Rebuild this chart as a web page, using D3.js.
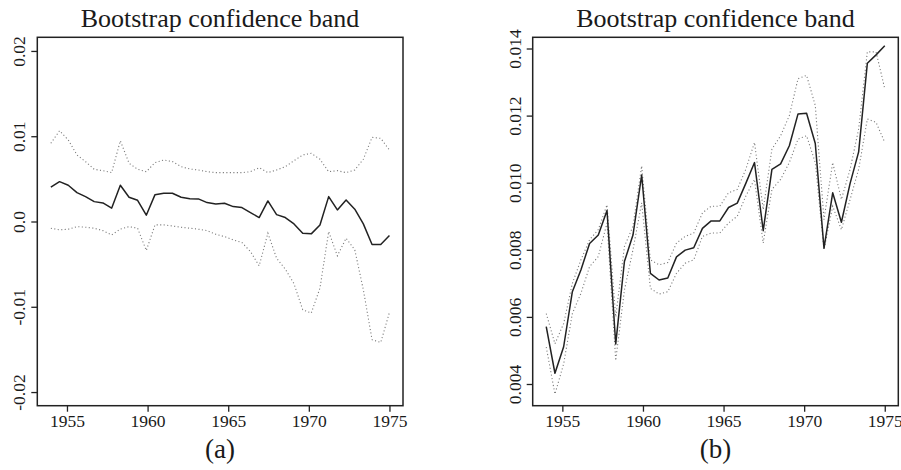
<!DOCTYPE html>
<html>
<head>
<meta charset="utf-8">
<script src="https://cdn.jsdelivr.net/npm/d3@7"></script>
<style>
html, body { margin: 0; padding: 0; background: #fff; }
svg { display: block; }
text { font-family: "Liberation Serif", "DejaVu Serif", serif; fill: #1a1a1a; }
</style>
</head>
<body>
<svg id="chart" width="901" height="470"></svg>
<script>
// ---- data ----
const years = [1954.00, 1954.54, 1955.08, 1955.62, 1956.15, 1956.69, 1957.23, 1957.77, 1958.31, 1958.85,
  1959.38, 1959.92, 1960.46, 1961.00, 1961.54, 1962.08, 1962.62, 1963.15, 1963.69, 1964.23,
  1964.77, 1965.31, 1965.85, 1966.38, 1966.92, 1967.46, 1968.00, 1968.54, 1969.08, 1969.62,
  1970.15, 1970.69, 1971.23, 1971.77, 1972.31, 1972.85, 1973.38, 1973.92, 1974.46, 1975.00];

const leftFit = [0.00402, 0.00467, 0.00425, 0.00338, 0.00292, 0.00233, 0.00218, 0.00156, 0.00425, 0.00285,
  0.00249, 0.00074, 0.00315, 0.00331, 0.00331, 0.00285, 0.00268, 0.00265, 0.00222, 0.00206,
  0.00214, 0.00175, 0.00163, 0.00105, 0.00046, 0.00241, 0.00081, 0.00046, -0.00028, -0.00137,
  -0.00145, -0.0004, 0.00292, 0.00136, 0.00253, 0.00144, -0.00028, -0.0027, -0.0027, -0.00165];
const leftUpper = [0.00917, 0.01064, 0.00956, 0.0078, 0.00702, 0.00612, 0.00596, 0.00573, 0.00947, 0.00683,
  0.00612, 0.00584, 0.0069, 0.00721, 0.00702, 0.00643, 0.00616, 0.00604, 0.00584, 0.00573,
  0.00573, 0.00573, 0.00573, 0.00584, 0.00631, 0.00573, 0.00604, 0.00643, 0.00713, 0.0078,
  0.008, 0.0073, 0.00584, 0.00596, 0.00573, 0.00604, 0.0073, 0.00987, 0.00975, 0.00838];
const leftLower = [-0.00079, -0.00098, -0.0009, -0.0006, -0.00067, -0.00079, -0.00107, -0.00157, -0.0009, -0.0006,
  -0.00079, -0.0034, -0.0004, -0.0004, -0.00052, -0.00067, -0.00079, -0.0009, -0.00107, -0.0015,
  -0.00177, -0.00215, -0.00247, -0.00352, -0.0052, -0.00137, -0.0043, -0.00559, -0.0073, -0.01035,
  -0.01074, -0.00781, -0.00118, -0.00403, -0.00196, -0.00333, -0.008, -0.01386, -0.01418, -0.01066];

const rightFit = [0.00571, 0.00432, 0.00511, 0.00675, 0.0074, 0.00819, 0.00844, 0.00917, 0.00519, 0.00765,
  0.00844, 0.01023, 0.0073, 0.0071, 0.00716, 0.00779, 0.00799, 0.00806, 0.00864, 0.00886,
  0.00886, 0.00926, 0.00939, 0.00998, 0.0106, 0.00857, 0.0104, 0.01056, 0.0111, 0.01205,
  0.01207, 0.01117, 0.00805, 0.0097, 0.00882, 0.00998, 0.01092, 0.01356, 0.01381, 0.01408];
const rightUpper = [0.0061, 0.0052, 0.0058, 0.0070, 0.0077, 0.0083, 0.0086, 0.00934, 0.0060, 0.0081,
  0.0087, 0.0105, 0.0077, 0.00755, 0.00762, 0.0082, 0.0084, 0.0085, 0.0091, 0.0093,
  0.0093, 0.0097, 0.0098, 0.0104, 0.0112, 0.0092, 0.0110, 0.0114, 0.0120, 0.0131,
  0.0132, 0.0123, 0.0089, 0.0106, 0.0095, 0.0104, 0.0116, 0.0139, 0.0139, 0.0128];
const rightLower = [0.0051, 0.0037, 0.0046, 0.0061, 0.0067, 0.0075, 0.0078, 0.0088, 0.0047, 0.0068,
  0.0080, 0.0094, 0.00685, 0.00668, 0.00675, 0.0073, 0.0076, 0.0077, 0.0084, 0.0085,
  0.0085, 0.0088, 0.0090, 0.0096, 0.0101, 0.0082, 0.0098, 0.0101, 0.0106, 0.0113,
  0.0114, 0.0106, 0.0080, 0.0093, 0.0086, 0.0095, 0.0104, 0.0119, 0.0118, 0.0112];

const xTicks = [1955, 1960, 1965, 1970, 1975];
const leftYTicks = [-0.02, -0.01, 0.0, 0.01, 0.02];
const leftYLabels = ["-0.02", "-0.01", "0.0", "0.01", "0.02"];
const rightYTicks = [0.004, 0.006, 0.008, 0.010, 0.012, 0.014];
const rightYLabels = ["0.004", "0.006", "0.008", "0.010", "0.012", "0.014"];
const titles = ["Bootstrap confidence band", "Bootstrap confidence band"];
const panelLabels = ["(a)", "(b)"];

const xDomain = [1953.16, 1975.84];
const leftYDomain = [-0.0216, 0.0216];
const rightYDomain = [0.003353, 0.014334];

// ---- drawing ----
const svg = d3.select("#chart");
svg.append("rect").attr("width", 901).attr("height", 470).attr("fill", "#fff");

function panel(cfg) {
  const top = 37.3, bottom = 405.7;
  const x = d3.scaleLinear().domain(xDomain).range([cfg.left, cfg.right]);
  const y = d3.scaleLinear().domain(cfg.yDomain).range([bottom, top]);
  const g = svg.append("g");

  const line = d3.line().x((d, i) => x(years[i])).y(d => y(d));

  // bands (dotted)
  [cfg.upper, cfg.lower].forEach(arr => {
    g.append("path").datum(arr).attr("d", line)
      .attr("fill", "none").attr("stroke", "#7a7a7a").attr("stroke-width", 1.1)
      .attr("stroke-dasharray", "1.1 2.4");
  });
  // fit (solid)
  g.append("path").datum(cfg.fit).attr("d", line)
    .attr("fill", "none").attr("stroke", "#222").attr("stroke-width", 1.5)
    .attr("stroke-linejoin", "round");

  // box
  g.append("rect").attr("x", cfg.left).attr("y", top)
    .attr("width", cfg.right - cfg.left).attr("height", bottom - top)
    .attr("fill", "none").attr("stroke", "#222").attr("stroke-width", 1.5);

  // x axis
  const xa = g.append("g").attr("transform", `translate(0,${bottom})`)
    .call(d3.axisBottom(x).tickValues(xTicks).tickFormat(d3.format("d")).tickSizeOuter(0).tickSize(6).tickPadding(3));
  xa.select(".domain").remove();
  xa.selectAll("line").attr("stroke", "#222").attr("stroke-width", 1.3);
  xa.selectAll("text").attr("font-size", "17.5px").attr("font-family", "Liberation Serif").attr("fill", "#1a1a1a");

  // y axis
  const ya = g.append("g").attr("transform", `translate(${cfg.left},0)`)
    .call(d3.axisLeft(y).tickValues(cfg.yTicks).tickFormat((d, i) => cfg.yLabels[i]).tickSizeOuter(0).tickSize(6));
  ya.select(".domain").remove();
  ya.selectAll("line").attr("stroke", "#222").attr("stroke-width", 1.3);
  ya.selectAll("text")
    .attr("font-size", "17.5px").attr("font-family", "Liberation Serif").attr("fill", "#1a1a1a")
    .attr("text-anchor", "middle").attr("dy", 0)
    .attr("x", 0).attr("y", 0)
    .attr("transform", `translate(${cfg.labelX - cfg.left},0) rotate(-90)`);

  // title
  g.append("text").attr("x", cfg.center).attr("y", 26.5).attr("text-anchor", "middle")
    .attr("font-size", "26px").text(cfg.title);
  // panel label
  g.append("text").attr("x", cfg.center).attr("y", 458).attr("text-anchor", "middle")
    .attr("font-size", "27px").text(cfg.label);
}

panel({left: 37.3, right: 403, center: 220, labelX: 25, yDomain: leftYDomain,
  yTicks: leftYTicks, yLabels: leftYLabels, fit: leftFit, upper: leftUpper, lower: leftLower,
  title: titles[0], label: panelLabels[0]});
panel({left: 532.7, right: 898.3, center: 715.5, labelX: 520.7, yDomain: rightYDomain,
  yTicks: rightYTicks, yLabels: rightYLabels, fit: rightFit, upper: rightUpper, lower: rightLower,
  title: titles[1], label: panelLabels[1]});
</script>
</body>
</html>
